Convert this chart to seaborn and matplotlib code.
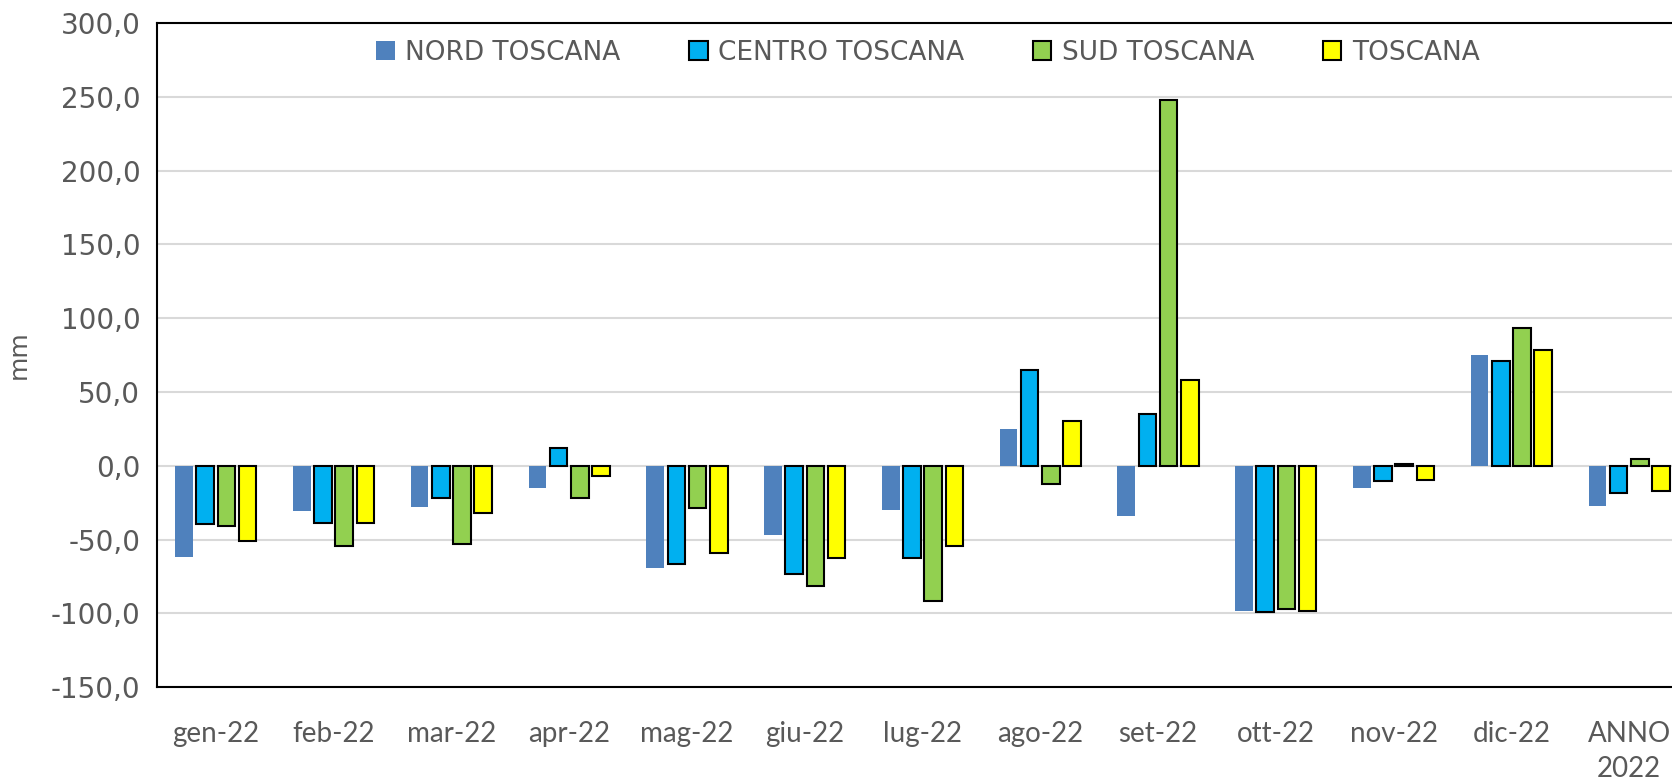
import matplotlib
matplotlib.use("Agg")
import matplotlib.pyplot as plt
from matplotlib.ticker import FuncFormatter, MultipleLocator
import seaborn as sns
import pandas as pd

categories = ["gen-22", "feb-22", "mar-22", "apr-22", "mag-22", "giu-22", "lug-22",
              "ago-22", "set-22", "ott-22", "nov-22", "dic-22", "ANNO\n2022"]
series_names = ["NORD TOSCANA", "CENTRO TOSCANA", "SUD TOSCANA", "TOSCANA"]
nord = [-61.5, -30.5, -28.1, -15.2, -69.5, -47.1, -30.1, 24.7, -33.7, -98.4, -14.9, 75.3, -27.1]
centro = [-39.6, -39.1, -21.9, 12.2, -66.3, -73.5, -62.4, 64.7, 35.3, -99.3, -10.2, 71.3, -18.6]
sud = [-40.7, -54.3, -53.2, -21.5, -28.3, -81.4, -91.9, -12.2, 248.0, -97.3, 0.9, 93.2, 4.8]
toscana = [-50.9, -38.5, -31.7, -7.2, -58.8, -62.4, -54.1, 30.3, 57.9, -98.6, -9.7, 78.7, -17.4]
colors = ["#4F81BD", "#00B0F0", "#92D050", "#FFFF00"]

rows = []
for name, vals in zip(series_names, [nord, centro, sud, toscana]):
    for c, v in zip(categories, vals):
        rows.append({"mese": c, "zona": name, "valore": v})
df = pd.DataFrame(rows)

sns.set_theme(style="white")
plt.rcParams["font.family"] = ["DejaVu Sans"]

fig = plt.figure(figsize=(16.72, 7.8), dpi=100)
ax = fig.add_axes([0.0939, 0.119, 1.0096 - 0.0939, 0.9705 - 0.119])

sns.barplot(data=df, x="mese", y="valore", hue="zona", order=categories,
            hue_order=series_names, palette=colors, saturation=1,
            width=0.72, gap=0.17, legend=False, ax=ax, zorder=3)

for i, cont in enumerate(ax.containers):
    for p in cont.patches:
        if i == 0:
            p.set_edgecolor("none")
            p.set_linewidth(0)
        else:
            p.set_edgecolor("black")
            p.set_linewidth(1.5)

ax.set_ylim(-150, 300)
ax.set_xlim(-0.5, len(categories) - 0.5)
ax.yaxis.set_major_locator(MultipleLocator(50))
ax.yaxis.set_major_formatter(FuncFormatter(lambda v, p: f"{v:.1f}".replace(".", ",")))
ax.grid(axis="y", color="#D9D9D9", linewidth=1.5, zorder=0)
ax.set_axisbelow(True)

for s in ["left", "top", "bottom", "right"]:
    ax.spines[s].set_color("black")
    ax.spines[s].set_linewidth(1.5)
    ax.spines[s].set_visible(True)

ax.set_xlabel("")
ax.set_ylabel("mm", fontsize=18, color="#595959", labelpad=14)
ax.tick_params(axis="y", labelsize=20, labelcolor="#595959", length=0, pad=12)
ax.tick_params(axis="x", labelsize=20, labelcolor="#595959", length=0, pad=24)
for lbl in ax.get_xticklabels():
    lbl.set_fontfamily(["Lato", "DejaVu Sans"])
    lbl.set_linespacing(1.45)

handles = [cont.patches[0] for cont in ax.containers]
leg = ax.legend(handles, series_names, loc="center", bbox_to_anchor=(0.5036, 0.955),
                ncol=4, frameon=False, handlelength=0.7, handleheight=0.7,
                handletextpad=0.4, columnspacing=2.6,
                prop={"family": ["DejaVu Sans"], "size": 19})
for t in leg.get_texts():
    t.set_color("#595959")

fig.savefig("out.png", dpi=100)
